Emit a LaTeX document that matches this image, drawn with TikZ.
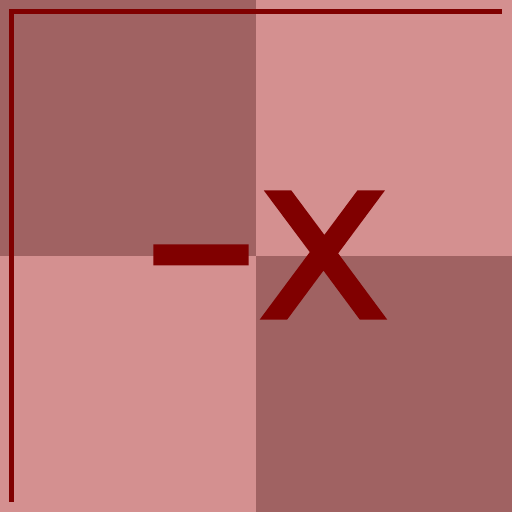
\documentclass[tikz,border=0pt]{standalone}
\usepackage{fontspec}
\newfontfamily\labelfont[RawFeature={embolden=1.0}]{DejaVu Sans}
\definecolor{darkq}{RGB}{160,98,98}
\definecolor{lightq}{RGB}{212,144,144}
\definecolor{maroon}{RGB}{128,0,0}

\begin{document}
\begin{tikzpicture}[x=1pt,y=1pt, every node/.style={font=\labelfont\fontsize{232}{232}\selectfont}]
\useasboundingbox (0,0) rectangle (512,512);
\fill[darkq] (0,256) rectangle (256,512);
\fill[lightq] (256,256) rectangle (512,512);
\fill[lightq] (0,0) rectangle (256,256);
\fill[darkq] (256,0) rectangle (512,256);
\draw[maroon,line width=5pt] (11.5,10) -- (11.5,500.5) -- (502,500.5);
\node[text=maroon,inner sep=0pt,anchor=base west] (negx) at (138,193.5) {\scalebox{1.5}[1]{-}\kern-8.5pt x};
\end{tikzpicture}
\end{document}
